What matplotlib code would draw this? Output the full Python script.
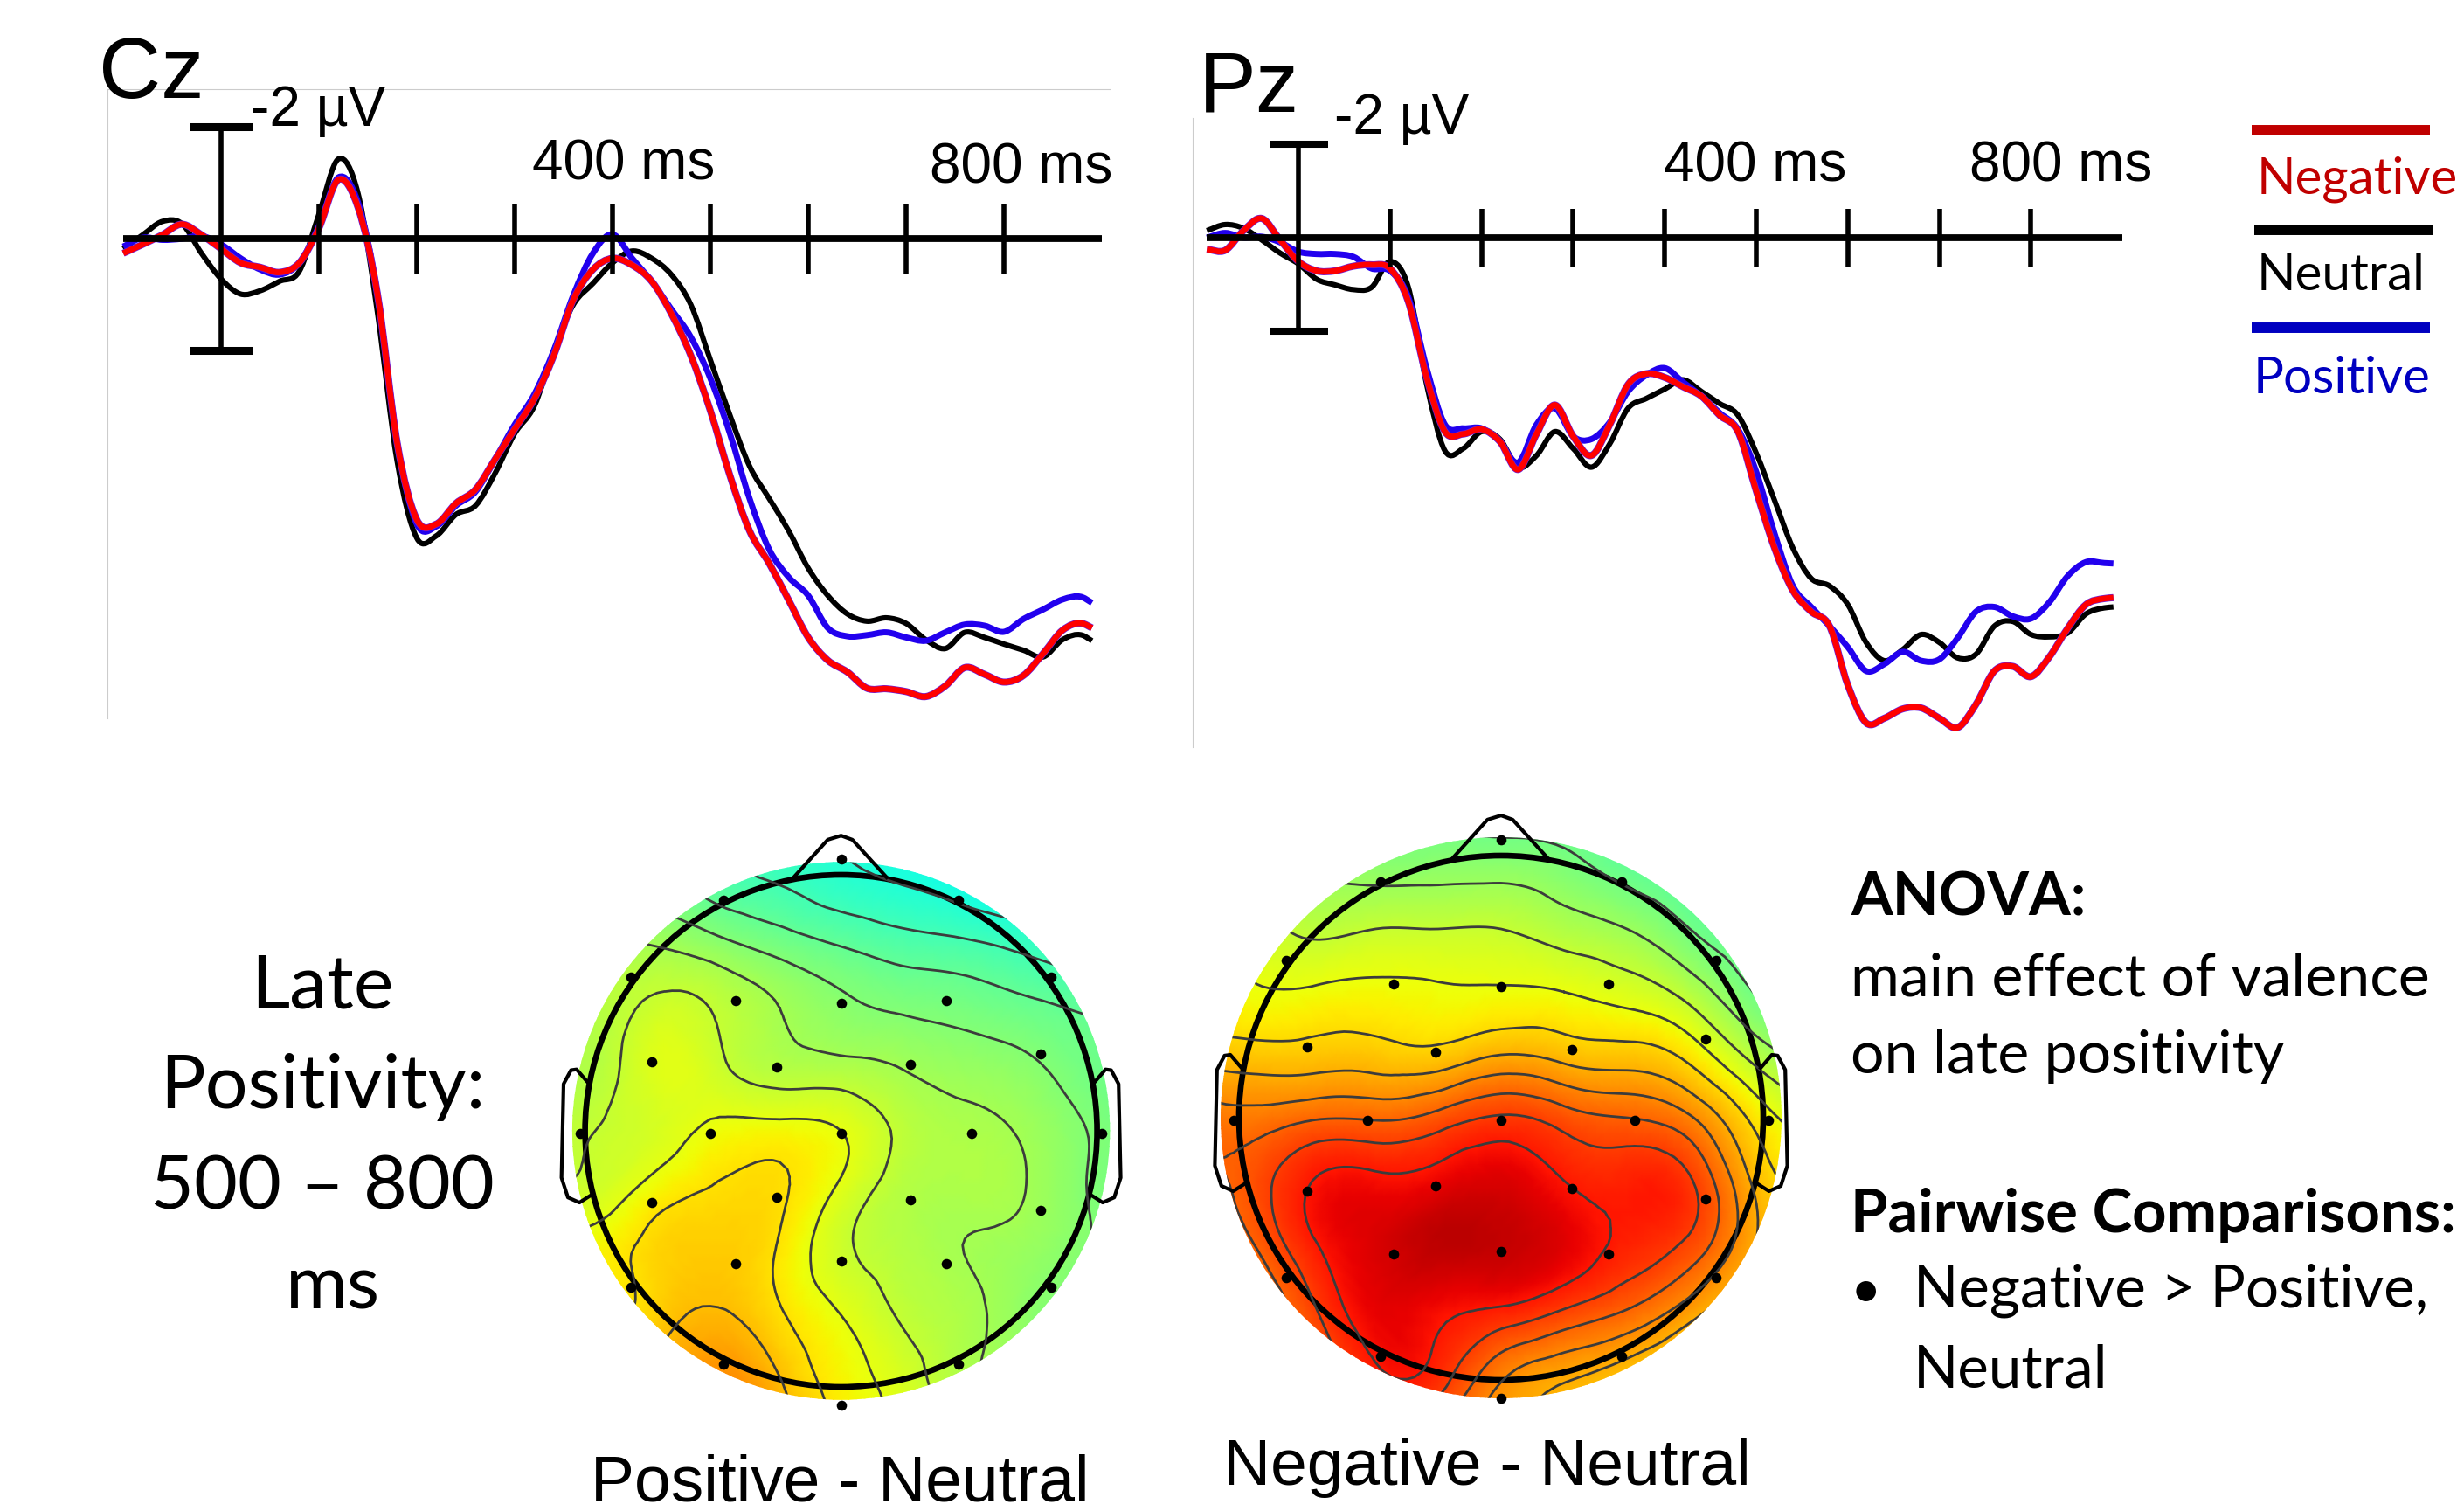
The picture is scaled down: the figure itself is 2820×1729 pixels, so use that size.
import numpy as np
import matplotlib
matplotlib.use('Agg')
import matplotlib.pyplot as plt
import matplotlib.tri as mtri
import matplotlib.patheffects as pe
from matplotlib.patches import Circle, PathPatch
from matplotlib.path import Path

W, H = 2820, 1729

# ERP traces, microvolts (negative up), same time base for everything
time_ms = list(range(-100, 881, 20)) + [890]

cz_neutral = [.18, -.07, -.31, -.27, .26, .72, .99, .93, .76, .58, -.44, -1.43, -.81, 1.34, 3.99, 5.36, 5.32,
              4.94, 4.78, 4.20, 3.49, 3.00, 2.00, 1.18, .80, .43, .22, .35, .64, 1.18, 2.17, 3.16, 4.07, 4.65,
              5.23, 5.90, 6.39, 6.72, 6.85, 6.79, 6.89, 7.18, 7.34, 7.05, 7.14, 7.26, 7.37, 7.49, 7.18, 7.10, 7.20]
cz_positive = [.14, -.02, .02, 0, -.05, .10, .35, .55, .64, .43, -.23, -1.10, -.65, 1.01, 3.66, 5.11, 5.15,
               4.78, 4.53, 3.95, 3.33, 2.79, 2.00, 1.01, .26, -.08, .35, .76, 1.26, 1.76, 2.50, 3.49, 4.65, 5.56,
               6.06, 6.39, 6.97, 7.12, 7.10, 7.05, 7.14, 7.20, 7.05, 6.91, 6.93, 7.04, 6.81, 6.64, 6.46, 6.42, 6.52]
cz_negative = [.26, .10, -.07, -.26, -.07, .18, .43, .51, .60, .43, -.19, -1.06, -.56, 1.01, 3.66, 5.03, 5.11,
               4.74, 4.49, 3.95, 3.41, 2.87, 2.09, 1.09, .55, .35, .47, .76, 1.34, 2.09, 3.08, 4.24, 5.23, 5.81,
               6.47, 7.14, 7.55, 7.76, 8.05, 8.06, 8.11, 8.20, 8.01, 7.68, 7.80, 7.94, 7.82, 7.43, 7.01, 6.89, 6.97]

pz_neutral = [-.15, -.28, -.20, .05, .33, .56, .89, 1.01, 1.11, 1.06, .51, 1.06, 3.14, 4.56, 4.51, 4.15, 4.31,
              4.91, 4.66, 4.15, 4.51, 4.91, 4.41, 3.65, 3.44, 3.24, 3.04, 3.29, 3.55, 3.80, 4.61, 5.62, 6.64, 7.29,
              7.45, 7.85, 8.66, 9.05, 8.81, 8.49, 8.66, 8.99, 8.91, 8.31, 8.21, 8.49, 8.54, 8.46, 8.05, 7.92, 7.90]
pz_positive = [0, -.10, 0, -.02, .10, .30, .35, .35, .41, .66, .71, 1.27, 2.79, 4.00, 4.08, 4.08, 4.36,
               4.81, 4.00, 3.65, 4.25, 4.31, 3.95, 3.29, 2.94, 2.79, 3.09, 3.39, 3.75, 4.10, 5.01, 6.33, 7.45, 7.90,
               8.31, 8.76, 9.27, 9.12, 8.86, 9.05, 9.02, 8.56, 8.00, 7.90, 8.10, 8.15, 7.80, 7.24, 6.94, 6.96, 6.97]
pz_negative = [.25, .27, -.15, -.41, .05, .51, .71, .71, .61, .58, .66, 1.37, 2.99, 4.15, 4.20, 4.10, 4.36,
               4.96, 4.20, 3.58, 4.25, 4.66, 4.00, 3.14, 2.91, 2.99, 3.19, 3.39, 3.80, 4.15, 5.42, 6.64, 7.55, 8.00,
               8.31, 9.57, 10.38, 10.28, 10.08, 10.06, 10.28, 10.48, 9.98, 9.27, 9.17, 9.39, 8.97, 8.36, 7.85, 7.72, 7.70]

tick_ms = [100, 200, 300, 400, 500, 600, 700, 800]

# Scalp maps, position on the jet scale, rows from front (top) to back
grid_xy = [-1.2, -.96, -.72, -.48, -.24, 0, .24, .48, .72, .96, 1.2]
grid_rows = [1.2, .96, .72, .48, .24, 0, -.24, -.48, -.72, -.96, -1.2]

map_positive = [
    [.52, .49, .46, .43, .41, .39, .37, .35, .33, .33, .33],
    [.55, .52, .49, .45, .43, .405, .39, .37, .35, .345, .34],
    [.58, .56, .55, .525, .495, .47, .45, .44, .42, .395, .38],
    [.60, .57, .60, .585, .55, .52, .505, .495, .48, .465, .45],
    [.58, .57, .62, .60, .57, .565, .55, .535, .52, .49, .47],
    [.56, .59, .61, .64, .645, .63, .58, .56, .545, .51, .49],
    [.60, .605, .65, .675, .675, .62, .57, .56, .55, .51, .49],
    [.64, .65, .685, .695, .665, .60, .57, .55, .535, .51, .50],
    [.68, .66, .69, .715, .675, .63, .585, .56, .525, .49, .48],
    [.72, .72, .73, .76, .71, .65, .61, .56, .53, .50, .48],
    [.74, .74, .75, .77, .73, .67, .62, .58, .54, .51, .49]]
map_negative = [
    [.50, .50, .49, .48, .47, .46, .45, .44, .43, .42, .41],
    [.55, .54, .53, .52, .52, .52, .505, .47, .45, .44, .43],
    [.62, .61, .58, .59, .59, .59, .565, .54, .49, .46, .45],
    [.66, .64, .64, .645, .64, .64, .635, .615, .57, .49, .46],
    [.71, .70, .70, .70, .695, .725, .71, .70, .665, .575, .52],
    [.80, .78, .80, .80, .82, .85, .825, .805, .77, .67, .60],
    [.80, .82, .885, .895, .905, .92, .885, .875, .85, .72, .66],
    [.76, .80, .88, .92, .945, .94, .915, .875, .835, .73, .66],
    [.72, .76, .84, .91, .90, .885, .85, .81, .75, .68, .63],
    [.70, .74, .80, .88, .87, .78, .74, .71, .67, .63, .60],
    [.68, .72, .78, .82, .79, .74, .70, .67, .64, .61, .58]]

levels_positive = [.39, .43, .47, .51, .55, .59, .63, .67, .71]
levels_negative = [.49, .54, .59, .635, .68, .725, .765, .805, .845, .885]

# electrodes
elec_x = [0, -.46, .46, -.82, .82, -.41, 0, .41, -.74, -.25, .27, .78, -1.02, -.51, 0, .51, 1.02,
          -.74, -.25, .27, .78, -.41, 0, .41, -.82, .82, -.46, .46, 0]
elec_y = [1.06, .90, .90, .60, .60, .51, .50, .51, .27, .25, .26, .30, -.01, -.01, -.01, -.01, -.01,
          -.28, -.26, -.27, -.31, -.52, -.51, -.52, -.61, -.61, -.91, -.91, -1.07]

nose_x = [-.185, -.052, 0, .044, .178]
nose_y = [.99, 1.137, 1.153, 1.137, .99]
ear_x = [.99, 1.033, 1.055, 1.084, 1.092, 1.067, 1.022, .978]
ear_y = [.19, .24, .237, .183, -.183, -.26, -.28, -.252]

red, blue = '#ff0000', '#2200ee'

fig = plt.figure(figsize=(W / 100, H / 100), dpi=100, facecolor='white')


def px_axes(left, top, right, bottom):
    return fig.add_axes([left / W, 1 - bottom / H, (right - left) / W, (bottom - top) / H])


def label(x, y, s, size, color='black', family='Liberation Sans', **kw):
    fig.text(x / W, 1 - y / H, s, fontsize=size, color=color, family=family, va='baseline', **kw)


# bezier curve through the readings, so the trace is not drawn with corners
def trace(ax, values, **kw):
    t = np.array(time_ms, float)
    v = np.array(values, float)
    slope = np.gradient(v, t)
    verts = [(t[0], v[0])]
    codes = [Path.MOVETO]
    for i in range(len(t) - 1):
        d = (t[i + 1] - t[i]) / 3
        verts += [(t[i] + d, v[i] + slope[i] * d), (t[i + 1] - d, v[i + 1] - slope[i + 1] * d), (t[i + 1], v[i + 1])]
        codes += [Path.CURVE4] * 3
    ax.add_patch(PathPatch(Path(verts, codes), fill=False, joinstyle='round', capstyle='butt', **kw))


def erp_panel(ax, neutral, positive, negative, cap_lw, top_spine):
    ax.hlines(0, -100, 900, color='black', lw=5.6)
    ax.vlines(tick_ms, -.62, .62, color='black', lw=4)
    ax.vlines(0, -2, 2, color='black', lw=4)
    ax.hlines([-2, 2], -32, 32, color='black', lw=cap_lw)
    trace(ax, neutral, edgecolor='black', lw=4.4)
    trace(ax, positive, edgecolor=blue, lw=5)
    trace(ax, negative, edgecolor=red, lw=4.8,
          path_effects=[pe.withStroke(linewidth=5.8, foreground='#6a20e0')])
    for s in ['right', 'bottom']:
        ax.spines[s].set_visible(False)
    ax.spines['top'].set_visible(top_spine)
    ax.spines['left'].set_color('#cccccc')
    ax.spines['top'].set_color('#cccccc')
    ax.set_xticks([])
    ax.set_yticks([])
    ax.patch.set_alpha(0)


ax_cz = px_axes(123, 102, 1270, 822)
ax_cz.set_xlim(-116.07, 908.04)
ax_cz.set_ylim(8.59, -2.68)
erp_panel(ax_cz, cz_neutral, cz_positive, cz_negative, 6.5, True)

ax_pz = px_axes(1365, 135, 2440, 855)
ax_pz.set_xlim(-115.5, 910.3)
ax_pz.set_ylim(10.9, -2.56)
erp_panel(ax_pz, pz_neutral, pz_positive, pz_negative, 5.8, False)


def scalp_map(cx, cy, r, values, levels, disk_r):
    ext = 1.3
    ax = px_axes(cx - ext * r, cy - ext * r, cx + ext * r, cy + ext * r)
    ax.set_xlim(-ext, ext)
    ax.set_ylim(-ext, ext)
    ax.axis('off')
    gx, gy = np.meshgrid(grid_xy, grid_rows)
    tri = mtri.Triangulation(gx.ravel(), gy.ravel())
    fine_tri, fine_z = mtri.UniformTriRefiner(tri).refine_field(np.array(values).ravel(), subdiv=3)
    disk = Circle((0, 0), disk_r, transform=ax.transData)
    mesh = ax.tripcolor(fine_tri, fine_z, shading='gouraud', cmap='jet', vmin=0, vmax=1)
    mesh.set_clip_path(disk)
    lines = ax.tricontour(fine_tri, fine_z, levels=levels, colors='#3c3c3c', linewidths=2)
    lines.set_clip_path(disk)
    ax.add_patch(Circle((0, 0), 1, fill=False, ec='black', lw=4.8))
    ax.plot(nose_x, nose_y, color='black', lw=3)
    ax.plot(ear_x, ear_y, color='black', lw=3)
    ax.plot(-np.array(ear_x), ear_y, color='black', lw=3)
    ax.scatter(elec_x, elec_y, s=70, color='black', zorder=5, linewidths=0, clip_on=False)


scalp_map(962.6, 1294, 293, map_positive, levels_positive, 1.05)
scalp_map(1718, 1279, 300, map_negative, levels_negative, 1.07)

# panel text
label(113, 112, 'Cz', 71)
label(1372, 127, 'Pz', 71)
label(287, 144, '-2 µV', 46)
label(1527, 153, '-2 µV', 46)
label(609, 205, '400 ms', 46)
label(1064, 210, '800 ms', 46)
label(1904, 207, '400 ms', 46)
label(2254, 207, '800 ms', 46)

# legend
ax_leg = px_axes(2560, 130, 2820, 390)
ax_leg.set_xlim(2560, 2820)
ax_leg.set_ylim(390, 130)
ax_leg.axis('off')
ax_leg.hlines(149, 2577, 2781, color='#c00000', lw=8.6)
ax_leg.hlines(263, 2580, 2785, color='black', lw=8.6)
ax_leg.hlines(375, 2577, 2781, color='#0000c0', lw=8.6)
label(2583, 222, 'Negative', 42, color='#c00000', family='Lato')
label(2583, 332, 'Neutral', 42, family='Lato')
label(2579, 450, 'Positive', 42, color='#0000c0', family='Lato')

# left block
for x, y, s in zip([369, 369, 369, 381], [1153, 1268, 1383, 1498], ['Late', 'Positivity:', '500 – 800', 'ms']):
    label(x, y, s, 62, family='Lato', ha='center')

label(676, 1717, 'Positive - Neutral', 54)
label(1400, 1699, 'Negative - Neutral', 54)

# stats block
label(2118, 1048, 'ANOVA:', 49.5, family='Lato', fontweight='bold')
label(2118, 1140, 'main effect of valence', 49, family='Lato')
label(2118, 1228, 'on late positivity', 49, family='Lato')
label(2118, 1410, 'Pairwise Comparisons:', 49.5, family='Lato', fontweight='bold')
label(2118, 1496, '•', 44, family='Lato')
label(2190, 1496, 'Negative > Positive,', 48.5, family='Lato')
label(2190, 1588, 'Neutral', 48.5, family='Lato')

fig.savefig('out.png', dpi=100, facecolor='white')
